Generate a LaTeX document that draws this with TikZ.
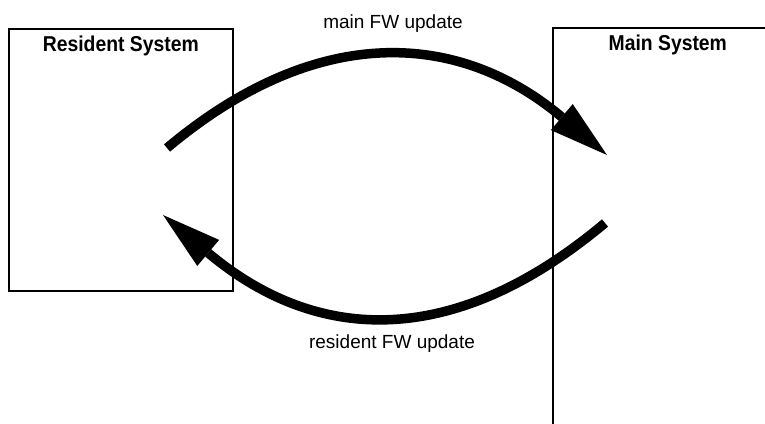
\documentclass[tikz,border=0pt]{standalone}
\usepackage{fontspec}
\setmainfont{Liberation Sans}
\newfontfamily\titlefont{Liberation Sans Bold}[FakeStretch=0.9]
\usepackage{tikz}
\usetikzlibrary{arrows.meta, positioning, calc}

\begin{document}
\begin{tikzpicture}[x=1pt, y=1pt,
    sysbox/.style={rectangle, draw=black, line width=1.6pt, minimum width=224pt, inner sep=0pt},
    systitle/.style={inner sep=0pt, font=\titlefont\fontsize{21.5}{24}\selectfont},
    fwlabel/.style={inner sep=0pt, font=\fontsize{19}{22}\selectfont},
    fwarrow/.style={-{Triangle[length=59pt, width=34pt, line width=0pt]}, line width=9.5pt}]

    \useasboundingbox (0,0) rectangle (765,423);
    \clip (0,0) rectangle (765,423);

    \node[sysbox, minimum height=262pt, anchor=north west] (resident) at (8,395) {};
    \node[sysbox, minimum width=230pt, minimum height=400pt, anchor=north west] (main) at (552,396) {};
    \node[systitle, below=8pt of resident.north] (residenttitle) {Resident System};
    \node[systitle, below=8pt of main.north] (maintitle) {Main System};

    \coordinate (residentout) at (167,275);
    \coordinate (maintip) at (607,268);
    \coordinate (mainout) at (605,200);
    \coordinate (residenttip) at (163,208);

    \draw[fwarrow] (residentout) to[out=40, in=140, looseness=1.13] (maintip);
    \draw[fwarrow] (mainout) to[out=-140, in=-40, looseness=1.15] (residenttip);

    \node[fwlabel, anchor=base] (mainlabel) at (393,394) {main FW update};
    \node[fwlabel, anchor=base] (residentlabel) at (392,75) {resident FW update};
\end{tikzpicture}
\end{document}
